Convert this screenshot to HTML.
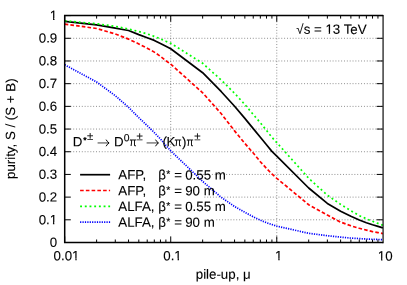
<!DOCTYPE html>
<html><head><meta charset="utf-8"><title>purity vs pile-up</title>
<style>html,body{margin:0;padding:0;background:#fff;}svg{display:block;will-change:transform;}text{font-family:"Liberation Sans",sans-serif;font-size:13.3px;fill:#000;stroke:#000;stroke-width:0.1px;}</style></head><body>
<svg width="407" height="285" viewBox="0 0 407 285">
<rect x="0" y="0" width="407" height="285" fill="#fff"/>
<g stroke="#000" stroke-width="0.55" stroke-dasharray="0.95 1.9" fill="none" opacity="0.85">
<path d="M216.3 219.81H382.8"/>
<path d="M204.4 197.12H382.8"/>
<path d="M194.8 174.43H382.8"/>
<path d="M64.7 151.74H382.8"/>
<path d="M64.7 129.05H382.8"/>
<path d="M64.7 106.36H382.8"/>
<path d="M64.7 83.67H382.8"/>
<path d="M64.7 60.98H382.8"/>
<path d="M64.7 38.29H382.8"/>
<path d="M170.73 15.6V159.8"/>
<path d="M276.77 15.6V242.5"/>
</g>
<g fill="none" stroke-width="1.7">
<path d="M64.70 21.40L96.62 24.80L115.29 28.10L128.54 30.50L138.81 34.60L147.21 37.70L154.31 40.40L160.46 43.50L165.88 46.20L170.73 48.70L202.65 72.70L221.32 91.70L234.57 106.20L244.85 118.40L253.24 128.60L260.34 137.30L266.49 144.70L271.91 151.40L276.77 156.20L308.69 188.00L327.36 203.40L340.61 211.20L350.88 216.30L359.28 220.00L366.38 222.70L372.52 224.80L377.95 226.40L382.80 227.90" stroke="#000" stroke-linejoin="round"/>
<path d="M64.70 24.10L96.62 28.50L115.29 34.00L128.54 39.10L138.81 43.90L147.21 48.20L154.31 52.10L160.46 56.40L165.88 60.70L170.73 64.15L202.65 92.80L221.32 113.80L234.57 130.90L244.85 143.40L253.24 153.05L260.34 161.70L266.49 168.40L271.91 174.00L276.77 178.30L308.69 204.70L327.36 215.10L340.61 222.10L350.88 225.80L359.28 228.30L366.38 230.10L372.52 231.60L377.95 232.60L382.80 233.55" stroke="#ff0000" stroke-dasharray="3.6 2.15"/>
<path d="M64.70 20.80L96.62 23.80L115.29 26.35L128.54 29.05L138.81 31.50L147.21 33.90L154.31 36.40L160.46 38.85L165.88 41.30L170.73 43.30L202.65 63.30L221.32 80.10L234.57 93.30L244.85 104.50L253.24 114.50L260.34 122.70L266.49 130.50L271.91 137.30L276.77 142.60L308.69 178.30L327.36 195.20L340.61 204.40L350.88 210.70L359.28 215.60L366.38 218.80L372.52 221.30L377.95 223.40L382.80 225.20" stroke="#00ff00" stroke-dasharray="1.9 2.8"/>
<path d="M64.70 64.75L96.62 82.00L115.29 95.70L128.54 107.30L138.81 117.65L147.21 125.60L154.31 132.60L160.46 139.00L165.88 145.40L170.73 150.90L202.65 181.40L221.32 197.40L234.57 206.50L244.85 212.30L253.24 216.80L260.34 220.20L266.49 222.70L271.91 224.50L276.77 226.10L308.69 233.30L327.36 235.70L340.61 237.10L350.88 238.10L359.28 238.60L366.38 239.00L372.52 239.30L377.95 239.50L382.80 239.70" stroke="#0000ff" stroke-dasharray="1.2 1.2"/>
</g>
<g fill="none" stroke-width="1.7">
<path d="M80.1 174.7H110.1" stroke="#000"/>
<path d="M80.1 190.5H110.1" stroke="#ff0000" stroke-dasharray="3.6 2.15"/>
<path d="M80.1 206.4H110.1" stroke="#00ff00" stroke-dasharray="1.9 2.8"/>
<path d="M80.1 222.1H110.1" stroke="#0000ff" stroke-dasharray="1.2 1.2"/>
</g>
<g stroke="#000" stroke-width="1.5" fill="none">
<path d="M383.20 15.60H64.70V242.50H383.20" stroke-linejoin="miter"/>
</g>
<path d="M383.07 14.90V243.20" stroke="#000" stroke-width="1.15" fill="none"/>
<g stroke="#000" stroke-width="1" fill="none">
<path d="M64.7 242.50h6.1M382.8 242.50h-6.1M64.7 219.81h6.1M382.8 219.81h-6.1M64.7 197.12h6.1M382.8 197.12h-6.1M64.7 174.43h6.1M382.8 174.43h-6.1M64.7 151.74h6.1M382.8 151.74h-6.1M64.7 129.05h6.1M382.8 129.05h-6.1M64.7 106.36h6.1M382.8 106.36h-6.1M64.7 83.67h6.1M382.8 83.67h-6.1M64.7 60.98h6.1M382.8 60.98h-6.1M64.7 38.29h6.1M382.8 38.29h-6.1M64.7 15.60h6.1M382.8 15.60h-6.1M64.70 242.5v-6.1M64.70 15.6v6.1M96.62 242.5v-3.0M96.62 15.6v3.0M115.29 242.5v-3.0M115.29 15.6v3.0M128.54 242.5v-3.0M128.54 15.6v3.0M138.81 242.5v-3.0M138.81 15.6v3.0M147.21 242.5v-3.0M147.21 15.6v3.0M154.31 242.5v-3.0M154.31 15.6v3.0M160.46 242.5v-3.0M160.46 15.6v3.0M165.88 242.5v-3.0M165.88 15.6v3.0M170.73 242.5v-6.1M170.73 15.6v6.1M202.65 242.5v-3.0M202.65 15.6v3.0M221.32 242.5v-3.0M221.32 15.6v3.0M234.57 242.5v-3.0M234.57 15.6v3.0M244.85 242.5v-3.0M244.85 15.6v3.0M253.24 242.5v-3.0M253.24 15.6v3.0M260.34 242.5v-3.0M260.34 15.6v3.0M266.49 242.5v-3.0M266.49 15.6v3.0M271.91 242.5v-3.0M271.91 15.6v3.0M276.77 242.5v-6.1M276.77 15.6v6.1M308.69 242.5v-3.0M308.69 15.6v3.0M327.36 242.5v-3.0M327.36 15.6v3.0M340.61 242.5v-3.0M340.61 15.6v3.0M350.88 242.5v-3.0M350.88 15.6v3.0M359.28 242.5v-3.0M359.28 15.6v3.0M366.38 242.5v-3.0M366.38 15.6v3.0M372.52 242.5v-3.0M372.52 15.6v3.0M377.95 242.5v-3.0M377.95 15.6v3.0"/>
</g>
<g transform="rotate(0.03 200 140)"><text x="57.2" y="246.9" text-anchor="end">0</text></g>
<g transform="rotate(0.03 200 140)"><text x="57.2" y="224.3" text-anchor="end">0.1</text></g>
<g transform="rotate(0.03 200 140)"><text x="57.2" y="201.6" text-anchor="end">0.2</text></g>
<g transform="rotate(0.03 200 140)"><text x="57.2" y="178.9" text-anchor="end">0.3</text></g>
<g transform="rotate(0.03 200 140)"><text x="57.2" y="156.2" text-anchor="end">0.4</text></g>
<g transform="rotate(0.03 200 140)"><text x="57.2" y="133.5" text-anchor="end">0.5</text></g>
<g transform="rotate(0.03 200 140)"><text x="57.2" y="110.8" text-anchor="end">0.6</text></g>
<g transform="rotate(0.03 200 140)"><text x="57.2" y="88.1" text-anchor="end">0.7</text></g>
<g transform="rotate(0.03 200 140)"><text x="57.2" y="65.4" text-anchor="end">0.8</text></g>
<g transform="rotate(0.03 200 140)"><text x="57.2" y="42.7" text-anchor="end">0.9</text></g>
<g transform="rotate(0.03 200 140)"><text x="57.2" y="20.0" text-anchor="end">1</text></g>
<g transform="rotate(0.03 200 140)"><text x="66.6" y="260.3" text-anchor="middle">0.01</text></g>
<g transform="rotate(0.03 200 140)"><text x="172.6" y="260.3" text-anchor="middle">0.1</text></g>
<g transform="rotate(0.03 200 140)"><text x="278.8" y="260.3" text-anchor="middle">1</text></g>
<g transform="rotate(0.03 200 140)"><text x="385.3" y="260.3" text-anchor="middle">10</text></g>
<g transform="rotate(0.03 200 140)"><text x="223.3" y="278.8" text-anchor="middle">pile-up, μ</text></g>
<g transform="rotate(0.03 200 140)"><text transform="translate(15.1 128.8) rotate(-90)" text-anchor="middle">purity, S / (S + B)</text></g>
<g transform="rotate(0.03 200 140)"><text x="296.3" y="33.8">√s = 13 TeV</text></g>
<g transform="rotate(0.03 200 140)"><text x="72.80" y="146.40">D</text></g>
<g transform="rotate(0.03 200 140)"><text x="83.30" y="143.10" style="font-size:8.5px;stroke-width:0.4px">*</text></g>
<g transform="rotate(0.03 200 140)"><text x="87.00" y="140.10" style="font-size:11.5px;">±</text></g>
<path d="M97.60 142.95H108.70" stroke="#000" stroke-width="0.95" fill="none" opacity="0.8"/>
<path d="M106.10 139.65Q107.40 142.05 109.10 142.95Q107.40 143.85 106.10 146.25" stroke="#000" stroke-width="1" fill="none" stroke-linejoin="miter"/>
<g transform="rotate(0.03 200 140)"><text x="114.00" y="146.40">D</text></g>
<g transform="rotate(0.03 200 140)"><text x="123.70" y="141.20" style="font-size:10.4px;">0</text></g>
<g transform="rotate(0.03 200 140)"><text transform="translate(129.40 146.40) scale(0.84 1)" style="font-size:12.2px;">π</text></g>
<g transform="rotate(0.03 200 140)"><text x="136.60" y="140.30" style="font-size:11.5px;">±</text></g>
<path d="M146.60 142.95H158.10" stroke="#000" stroke-width="0.95" fill="none" opacity="0.8"/>
<path d="M155.50 139.65Q156.80 142.05 158.50 142.95Q156.80 143.85 155.50 146.25" stroke="#000" stroke-width="1" fill="none" stroke-linejoin="miter"/>
<g transform="rotate(0.03 200 140)"><text x="162.50" y="146.40">(</text></g>
<g transform="rotate(0.03 200 140)"><text x="166.50" y="146.40">K</text></g>
<g transform="rotate(0.03 200 140)"><text transform="translate(174.60 146.40) scale(0.84 1)" style="font-size:12.2px;">π</text></g>
<g transform="rotate(0.03 200 140)"><text x="182.00" y="146.40">)</text></g>
<g transform="rotate(0.03 200 140)"><text transform="translate(186.50 146.40) scale(0.84 1)" style="font-size:12.2px;">π</text></g>
<g transform="rotate(0.03 200 140)"><text x="194.30" y="140.30" style="font-size:11.5px;">±</text></g>
<g transform="rotate(0.03 200 140)"><text x="118.40" y="179.40">AFP,</text></g>
<g transform="rotate(0.03 200 140)"><text x="158.20" y="179.40">β</text></g>
<g transform="rotate(0.03 200 140)"><text x="166.40" y="177.65" style="font-size:10.4px;">*</text></g>
<g transform="rotate(0.03 200 140)"><text x="174.30" y="179.40">=</text></g>
<g transform="rotate(0.03 200 140)"><text x="185.20" y="179.40">0.55 m</text></g>
<g transform="rotate(0.03 200 140)"><text x="118.40" y="195.20">AFP,</text></g>
<g transform="rotate(0.03 200 140)"><text x="158.20" y="195.20">β</text></g>
<g transform="rotate(0.03 200 140)"><text x="166.40" y="193.45" style="font-size:10.4px;">*</text></g>
<g transform="rotate(0.03 200 140)"><text x="174.30" y="195.20">=</text></g>
<g transform="rotate(0.03 200 140)"><text x="185.20" y="195.20">90 m</text></g>
<g transform="rotate(0.03 200 140)"><text x="118.40" y="211.00">ALFA,</text></g>
<g transform="rotate(0.03 200 140)"><text x="158.20" y="211.00">β</text></g>
<g transform="rotate(0.03 200 140)"><text x="166.40" y="209.25" style="font-size:10.4px;">*</text></g>
<g transform="rotate(0.03 200 140)"><text x="174.30" y="211.00">=</text></g>
<g transform="rotate(0.03 200 140)"><text x="185.20" y="211.00">0.55 m</text></g>
<g transform="rotate(0.03 200 140)"><text x="118.40" y="226.80">ALFA,</text></g>
<g transform="rotate(0.03 200 140)"><text x="158.20" y="226.80">β</text></g>
<g transform="rotate(0.03 200 140)"><text x="166.40" y="225.05" style="font-size:10.4px;">*</text></g>
<g transform="rotate(0.03 200 140)"><text x="174.30" y="226.80">=</text></g>
<g transform="rotate(0.03 200 140)"><text x="185.20" y="226.80">90 m</text></g>
<g transform="rotate(0.03 200 140)" fill="#fff">
<rect x="49.58" y="222.41" width="3.42" height="3.30"/>
<rect x="54.42" y="222.41" width="3.11" height="3.30"/>
<rect x="49.59" y="18.11" width="3.42" height="3.30"/>
<rect x="54.43" y="18.11" width="3.11" height="3.30"/>
<rect x="71.94" y="258.41" width="3.42" height="3.30"/>
<rect x="76.78" y="258.41" width="3.11" height="3.30"/>
<rect x="174.23" y="258.41" width="3.42" height="3.30"/>
<rect x="179.07" y="258.41" width="3.11" height="3.30"/>
<rect x="274.90" y="258.41" width="3.42" height="3.30"/>
<rect x="279.74" y="258.41" width="3.11" height="3.30"/>
<rect x="377.70" y="258.41" width="3.42" height="3.30"/>
<rect x="382.54" y="258.41" width="3.11" height="3.30"/>
<rect x="325.19" y="31.91" width="3.42" height="3.30"/>
<rect x="330.03" y="31.91" width="3.11" height="3.30"/>
</g>
</svg></body></html>
